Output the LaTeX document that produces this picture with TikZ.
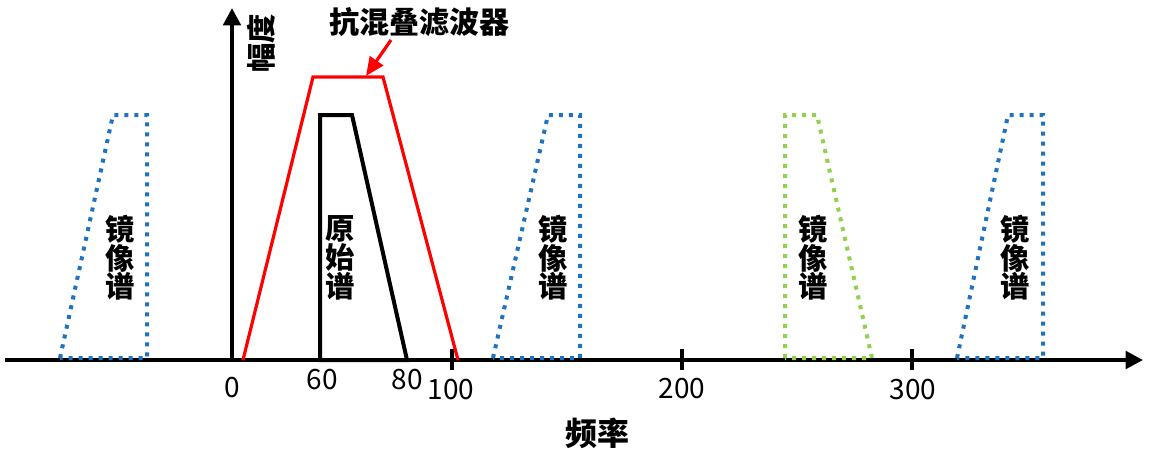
\documentclass[tikz,border=0pt]{standalone}
\usepackage{fontspec}
\setmainfont{Noto Sans CJK SC}
\usetikzlibrary{arrows.meta}
\definecolor{imgblue}{HTML}{1F73BE}
\definecolor{imggreen}{HTML}{92D050}
\definecolor{filtred}{HTML}{FF0000}
\tikzset{
  axisline/.style={line width=3pt, -{Triangle[length=13pt,width=13pt]}},
  tickline/.style={line width=2.6pt},
  ticklabel/.style={font=\fontsize{21}{22}\selectfont, inner sep=0pt},
  cjklabel/.style={font=\bfseries\fontsize{22}{21.5}\selectfont, align=center, inner sep=0pt},
  filterline/.style={filtred, line width=2.4pt, line join=miter},
  origline/.style={black, line width=3pt, line join=miter},
  imgline/.style={line width=3pt, dash pattern=on 3pt off 4.5pt},
}
\begin{document}
\begin{tikzpicture}[x=0.75pt,y=-0.75pt]
\path[use as bounding box] (0,0) rectangle (1150,450);
% axes
\coordinate (xs) at (5,360);
\coordinate (xe) at (1143,360);
\coordinate (ys) at (232,360);
\coordinate (ye) at (232,8);
\draw[axisline] (xs) -- (xe);
\draw[axisline] (ys) -- (ye);
% ticks
\foreach \x/\n in {452/t1,682/t2,912/t3}{
  \coordinate (\n a) at (\x,349);
  \coordinate (\n b) at (\x,370);
  \draw[tickline] (\n a) -- (\n b);
}
% tick labels
\node[ticklabel] (l0) at (232,388) {0};
\node[ticklabel] (l60) at (322,380) {60};
\node[ticklabel] (l80) at (407,380) {80};
\node[ticklabel] (l100) at (451,390) {100};
\node[ticklabel] (l200) at (682,389) {200};
\node[ticklabel] (l300) at (913,390) {300};
% axis titles
\node[cjklabel, font=\bfseries\fontsize{24}{24}\selectfont] (fq) at (597,433) {频率};
\node[cjklabel, rotate=90] (amp) at (261,43) {幅度};
% filter
\coordinate (f1) at (243,360);
\coordinate (f2) at (313,77);
\coordinate (f3) at (383,77);
\coordinate (f4) at (458,360);
\draw[filterline] (f1) -- (f2) -- (f3) -- (f4);
\node[cjklabel, font=\bfseries\fontsize{22.5}{23}\selectfont] (ft) at (419,22) {抗混叠滤波器};
\coordinate (fa) at (391,40);
\coordinate (fb) at (366,76);
\draw[filterline, -{Triangle[length=14pt,width=12pt]}] (fa) -- (fb);
% original spectrum
\coordinate (o1) at (320,360);
\coordinate (o2) at (320,115);
\coordinate (o3) at (352,115);
\coordinate (o4) at (407,360);
\draw[origline] (o1) -- (o2) -- (o3) -- (o4) -- cycle;
\node[cjklabel] (ol) at (340,258) {原\\始\\谱};
% image spectra
\draw[imgline, imgblue] (60,358) -- (113,115) -- (147,115) -- (147,358) -- cycle;
\node[cjklabel] (i1) at (120,258) {镜\\像\\谱};
\draw[imgline, imgblue] (493,358) -- (548,115) -- (580,115) -- (580,358) -- cycle;
\node[cjklabel] (i2) at (553,258) {镜\\像\\谱};
\draw[imgline, imggreen] (785,358) -- (785,115) -- (817,115) -- (872,358) -- cycle;
\node[cjklabel] (i3) at (813,258) {镜\\像\\谱};
\draw[imgline, imgblue] (957,358) -- (1008,115) -- (1043,115) -- (1043,358) -- cycle;
\node[cjklabel] (i4) at (1015,258) {镜\\像\\谱};
\end{tikzpicture}
\end{document}
